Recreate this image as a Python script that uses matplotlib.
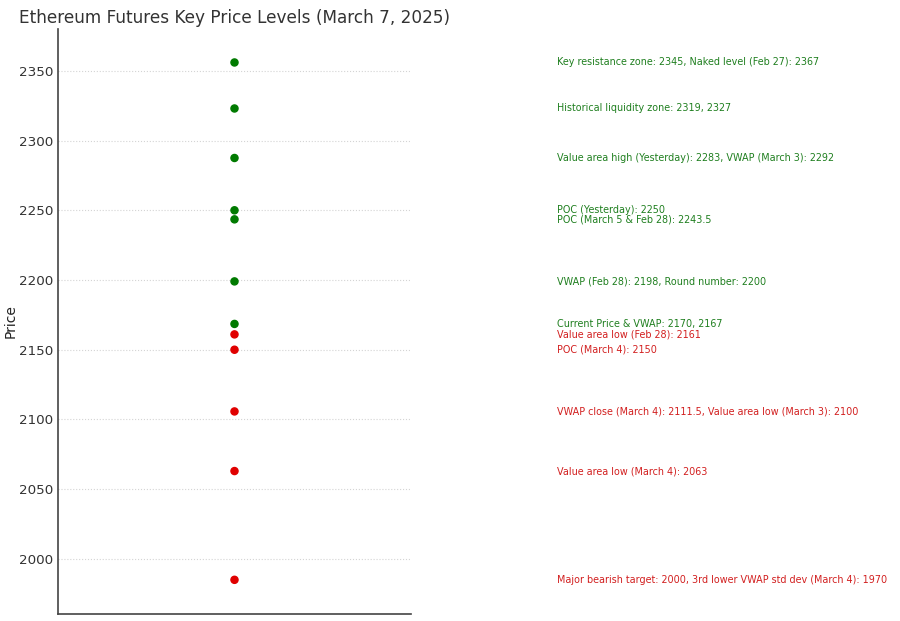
import matplotlib
matplotlib.use("Agg")
import matplotlib.pyplot as plt
import matplotlib.transforms as mtransforms

levels = [2356, 2323, 2287.5, 2250, 2243.5, 2199, 2168.5, 2161, 2150, 2105.75, 2063, 1985]
labels = [
    "Key resistance zone: 2345, Naked level (Feb 27): 2367",
    "Historical liquidity zone: 2319, 2327",
    "Value area high (Yesterday): 2283, VWAP (March 3): 2292",
    "POC (Yesterday): 2250",
    "POC (March 5 & Feb 28): 2243.5",
    "VWAP (Feb 28): 2198, Round number: 2200",
    "Current Price & VWAP: 2170, 2167",
    "Value area low (Feb 28): 2161",
    "POC (March 4): 2150",
    "VWAP close (March 4): 2111.5, Value area low (March 3): 2100",
    "Value area low (March 4): 2063",
    "Major bearish target: 2000, 3rd lower VWAP std dev (March 4): 1970",
]
kinds = ["above", "above", "above", "above", "above",
         "above", "above", "below", "below", "below", "below", "below"]

GREEN = "#007a00"
RED = "#e00000"
TEXT_RED = "#d21f1f"
TEXT_GREEN = "#1f7f1f"

fig = plt.figure(figsize=(9, 6.21), dpi=100)
ax = fig.add_axes([0.0644, 0.0113, 0.3923, 0.942])

xs = [0] * len(levels)
cols = [GREEN if k == "above" else RED for k in kinds]
tcols = [TEXT_GREEN if k == "above" else TEXT_RED for k in kinds]
ax.scatter(xs, levels, c=cols, s=26, zorder=3)

trans = mtransforms.blended_transform_factory(ax.transAxes, ax.transData)
for y, lab, tc in zip(levels, labels, tcols):
    ax.text(1.414, y, lab, transform=trans, color=tc, fontsize=6.9, va="center", ha="left", clip_on=False)

ax.set_xlim(-1, 1)
ax.set_ylim(1960.5, 2380)
ax.set_xticks([])
ax.set_yticks([2000, 2050, 2100, 2150, 2200, 2250, 2300, 2350])
ax.tick_params(axis="y", labelsize=9.7, colors="#333333", length=0, pad=3.5)
ax.grid(axis="y", linestyle=":", color="#d4d4d4", linewidth=0.8)
ax.set_axisbelow(True)
for s in ["top", "right"]:
    ax.spines[s].set_visible(False)
for s in ["left", "bottom"]:
    ax.spines[s].set_color("#444444")
    ax.spines[s].set_linewidth(1.2)
ax.set_ylabel("Price", fontsize=10, color="#222222", labelpad=1)
ax.set_title("Ethereum Futures Key Price Levels (March 7, 2025)", fontsize=12.2, color="#333333", pad=4)

fig.savefig("out.png", dpi=100)
